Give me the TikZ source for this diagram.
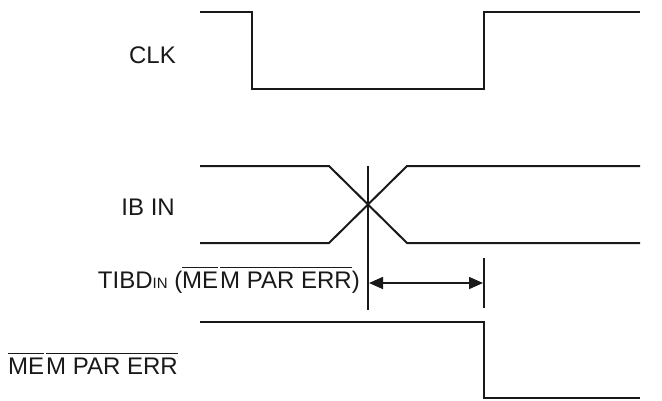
\documentclass[tikz,border=0pt]{standalone}
\usepackage{fontspec}
\setmainfont{Liberation Sans}
\usetikzlibrary{arrows.meta}
\newcommand\ovl[1]{\leavevmode\vbox{\hrule height 1.4pt\kern 3.4pt\hbox{#1}}}
\begin{document}
\begin{tikzpicture}[x=1pt,y=-1pt,
  sig/.style={line width=2pt,line join=miter,color=black!90},
  mark line/.style={line width=1.6pt,color=black!90},
  lbl/.style={inner sep=0pt,font=\fontsize{24}{28}\selectfont,text=black!90},
  tip/.style={Triangle[length=14pt,width=12pt]}]
\useasboundingbox (0,0) rectangle (662,400);
% CLK
\draw[sig] (200,12) -- (252,12) -- (252,89) -- (484,89) -- (484,12) -- (640,12);
% IB IN
\draw[sig] (200,166) -- (329,166) -- (407,243) -- (640,243);
\draw[sig] (200,243) -- (329,243) -- (407,166) -- (640,166);
% MEM PAR ERR
\draw[sig] (200,322) -- (484,322) -- (484,398) -- (640,398);
% timing markers
\coordinate (v1t) at (368,166);
\coordinate (v1b) at (368,310);
\coordinate (v2t) at (484,258);
\coordinate (v2b) at (484,308);
\draw[mark line] (v1t) -- (v1b);
\draw[mark line] (v2t) -- (v2b);
\coordinate (a1) at (369,283);
\coordinate (a2) at (483,283);
\draw[mark line,{Triangle[length=14pt,width=12pt]}-{Triangle[length=14pt,width=12pt]}] (a1) -- (a2);
% labels
\node[lbl,anchor=base east] (lclk) at (176,63) {CLK};
\node[lbl,anchor=base east] (lib) at (175,215) {IB IN};
\node[lbl,anchor=base east] (ltibd) at (360,288) {TIBD{\fontsize{15}{15}\selectfont IN} (\ovl{ME}\kern2pt\ovl{M PAR ERR})};
\node[lbl,anchor=base west] (lmem) at (8,374) {\ovl{ME}\kern2pt\ovl{M PAR ERR}};
\end{tikzpicture}
\end{document}
